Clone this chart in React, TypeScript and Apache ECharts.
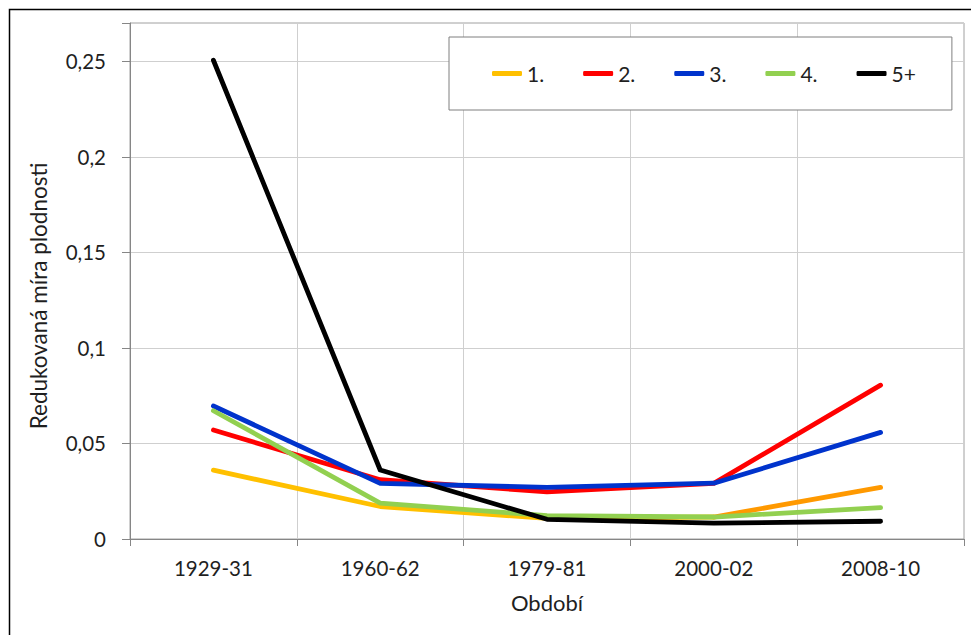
import React, { useEffect, useRef } from "react";
import * as echarts from "echarts";

const categories = ["1929-31", "1960-62", "1979-81", "2000-02", "2008-10"];
const seriesNames = ["1.", "2.", "3.", "4.", "5+"];
const s1 = [0.036, 0.017, 0.0108, 0.0115, 0.027];
const s2 = [0.057, 0.031, 0.0247, 0.0291, 0.0805];
const s3 = [0.0696, 0.0291, 0.027, 0.0292, 0.0558];
const s4 = [0.0671, 0.0188, 0.0122, 0.0115, 0.0164];
const s5 = [0.2505, 0.0361, 0.0103, 0.0083, 0.0093];
const yStep = 0.05;
const yMax = 0.27;
const colors = ["#FFC000", "#FF0000", "#0033CC", "#92D050", "#000000"];
const lastSegmentColor1 = "#FF9900";
const lastSegmentStart1 = 3;

const FONT = "Lato";
const TEXT = "#1f1f1f";

export default function App() {
  const ref = useRef<HTMLDivElement>(null);
  useEffect(() => {
    if (!ref.current) return;
    const chart = echarts.init(ref.current, undefined, { renderer: "svg" });
    const data = [s1, s2, s3, s4, s5];
    const isStep = (v: number) => Math.abs(v / yStep - Math.round(v / yStep)) < 1e-6;
    const mainSeries = data.map((d, i) => ({
      name: seriesNames[i],
      type: "line",
      data: i === 0 ? d.map((v, j) => (j <= lastSegmentStart1 ? v : null)) : d,
      symbol: "none",
      showSymbol: false,
      color: colors[i],
      itemStyle: { color: colors[i] },
      lineStyle: { color: colors[i], width: 4.8, cap: "round", join: "round" },
      z: 3 + i,
    }));
    const tailSeries = {
      name: "1. (2008-10)",
      type: "line",
      data: s1.map((v, j) => (j >= lastSegmentStart1 ? v : null)),
      symbol: "none",
      showSymbol: false,
      color: lastSegmentColor1,
      itemStyle: { color: lastSegmentColor1 },
      lineStyle: { color: lastSegmentColor1, width: 4.8, cap: "round", join: "round" },
      z: 2,
    };
    chart.setOption({
      animation: false,
      backgroundColor: "#ffffff",
      textStyle: { fontFamily: FONT, color: TEXT },
      grid: {
        left: 130,
        top: 23,
        right: 7,
        bottom: 96,
        show: true,
        borderColor: "#a0a0a0",
        borderWidth: 1,
      },
      legend: {
        left: 449,
        top: 37,
        orient: "horizontal",
        backgroundColor: "#ffffff",
        borderColor: "#7f7f7f",
        borderWidth: 1,
        padding: [26, 36, 26, 43],
        icon: "roundRect",
        itemWidth: 30,
        itemHeight: 5,
        itemGap: 39,
        textStyle: { fontFamily: FONT, fontSize: 21, color: TEXT },
        data: seriesNames,
      },
      xAxis: {
        type: "category",
        data: categories,
        boundaryGap: true,
        name: "Období",
        nameLocation: "middle",
        nameGap: 52,
        nameTextStyle: { fontFamily: FONT, fontSize: 22, color: TEXT },
        axisLine: { lineStyle: { color: "#868686", width: 1 } },
        axisTick: { show: true, length: 7, interval: 0, lineStyle: { color: "#868686" } },
        axisLabel: { fontFamily: FONT, fontSize: 20.5, color: TEXT, margin: 18, interval: 0 },
        splitLine: { show: true, interval: 0, lineStyle: { color: "#cfcfcf", width: 1 } },
      },
      yAxis: {
        type: "value",
        min: 0,
        max: yMax,
        interval: yStep,
        axisLine: { show: true, lineStyle: { color: "#868686", width: 1 } },
        axisTick: { show: true, length: 8, lineStyle: { color: "#868686" } },
        axisLabel: {
          fontFamily: FONT,
          fontSize: 20.5,
          color: TEXT,
          margin: 24,
          formatter: (v: number) => (isStep(v) ? String(+v.toFixed(2)).replace(".", ",") : ""),
        },
        splitLine: { show: true, lineStyle: { color: "#cfcfcf", width: 1 } },
      },
      graphic: [
        {
          type: "rect",
          left: 7,
          top: 7,
          shape: { width: 1000, height: 700 },
          style: { fill: "none", stroke: "#000000", lineWidth: 1.5 },
          z: 100,
          silent: true,
        },
        {
          type: "text",
          x: 38,
          y: 296,
          rotation: Math.PI / 2,
          style: {
            text: "Redukovaná míra plodnosti",
            fontFamily: FONT,
            fontSize: 22.5,
            fill: TEXT,
            align: "center",
            verticalAlign: "middle",
          },
        },
      ],
      series: [...mainSeries, tailSeries],
    });
    return () => chart.dispose();
  }, []);
  return (
    <div
      ref={ref}
      style={{ position: "fixed", left: 0, top: 0, width: 971, height: 635 }}
    />
  );
}
